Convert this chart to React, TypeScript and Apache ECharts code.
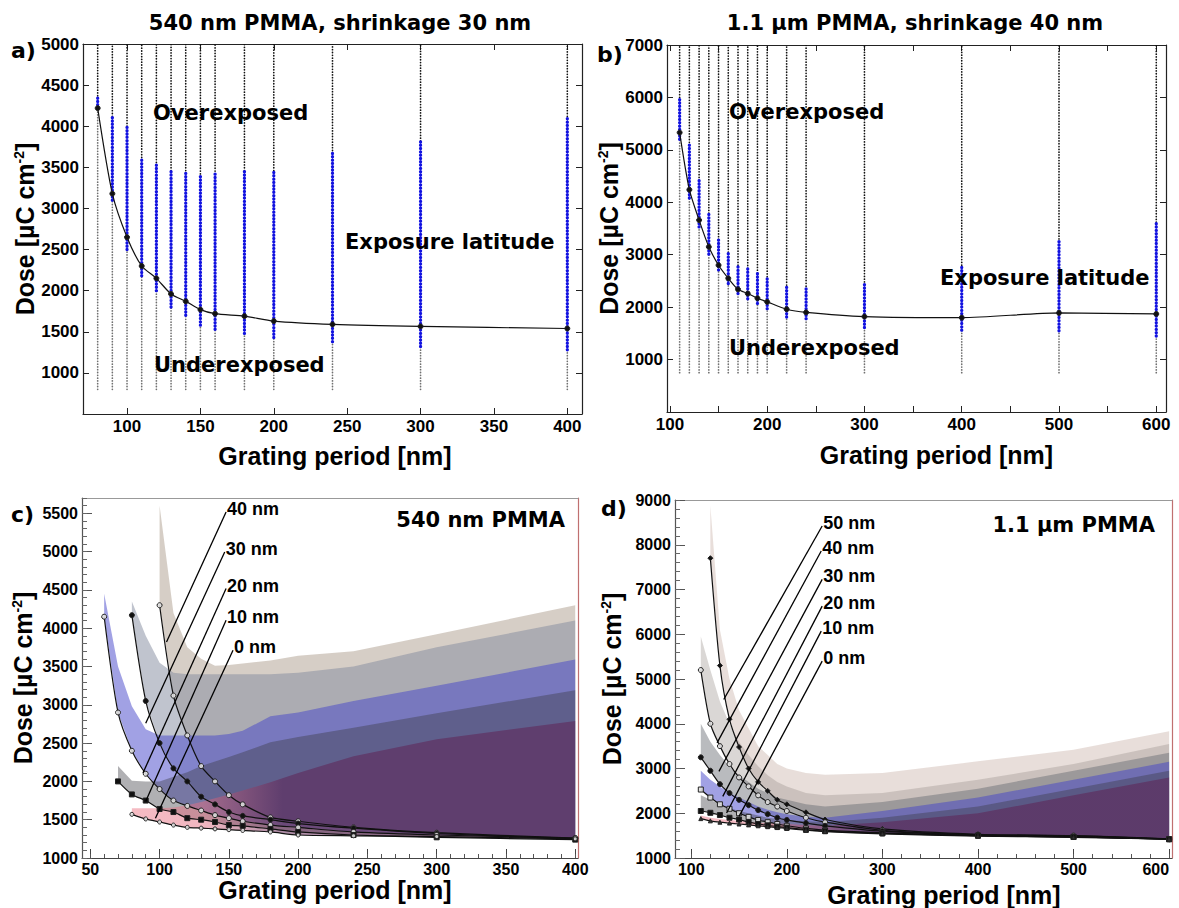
import React, { useEffect, useRef } from 'react';
import * as echarts from 'echarts';

// ---------------- Panel a: 540 nm PMMA, shrinkage 30 nm ----------------
const aPeriods = [80, 90, 100, 110, 120, 130, 140, 150, 160, 180, 200, 240, 300, 400];
const aDose = [4220, 3180, 2650, 2300, 2150, 1960, 1870, 1770, 1720, 1690, 1630, 1590, 1565, 1540];
const aLatitudeLow = [4220, 3100, 2500, 2180, 2000, 1800, 1700, 1580, 1530, 1480, 1430, 1380, 1320, 1280];
const aLatitudeHigh = [4370, 4120, 4000, 3620, 3560, 3460, 3460, 3420, 3420, 3460, 3460, 3670, 3820, 4120];
const aSweepStart = 800;
const aSweepEnd = 5000;
const aXTicks = [100, 150, 200, 250, 300, 350, 400];
const aYTicks = [1000, 1500, 2000, 2500, 3000, 3500, 4000, 4500, 5000];

// ---------------- Panel b: 1.1 um PMMA, shrinkage 40 nm ----------------
const bPeriods = [110, 120, 130, 140, 150, 160, 170, 180, 190, 200, 220, 240, 300, 400, 500, 600];
const bDose = [5330, 4240, 3660, 3150, 2800, 2550, 2340, 2260, 2170, 2100, 1960, 1900, 1820, 1800, 1890, 1870];
const bLatitudeLow = [5200, 4080, 3530, 3010, 2710, 2450, 2260, 2160, 2070, 1970, 1810, 1780, 1610, 1560, 1550, 1450];
const bLatitudeHigh = [6000, 5090, 4420, 3790, 3290, 3050, 2800, 2740, 2650, 2580, 2420, 2400, 2480, 2800, 3300, 3620];
const bSweepStart = 750;
const bSweepEnd = 7000;
const bXTicks = [100, 150, 200, 250, 300, 350, 400, 450, 500, 550, 600];
const bXLabels = [100, 200, 300, 400, 500, 600];
const bYTicks = [1000, 2000, 3000, 4000, 5000, 6000, 7000];

// ---------------- Panel c: 540 nm PMMA, shrinkage series ----------------
const cPeriods = [60, 70, 80, 90, 100, 110, 120, 130, 140, 150, 160, 180, 200, 240, 300, 400];
const cDose0 = [null, null, 1570, 1510, 1470, 1430, 1400, 1390, 1380, 1370, 1360, 1340, 1300, 1290, 1280, 1250];
const cUpper0 = [null, null, 1650, 1650, 1650, 1660, 1690, 1730, 1780, 1830, 1880, 1990, 2110, 2330, 2550, 2790];
const cDose10 = [null, 2000, 1830, 1750, 1640, 1600, 1520, 1500, 1470, 1430, 1420, 1380, 1340, 1300, 1270, 1240];
const cUpper10 = [null, 2200, 2010, 2000, 2000, 2060, 2120, 2200, 2260, 2320, 2380, 2510, 2580, 2700, 2890, 3190];
const cDose20 = [4150, 2900, 2400, 2100, 1900, 1750, 1680, 1620, 1560, 1520, 1480, 1430, 1400, 1340, 1300, 1260];
const cUpper20 = [4450, 3500, 2980, 2680, 2600, 2600, 2600, 2600, 2600, 2620, 2660, 2850, 2900, 3050, 3250, 3590];
const cDose30 = [null, null, 4170, 3050, 2500, 2170, 2000, 1800, 1700, 1600, 1550, 1500, 1450, 1390, 1320, 1250];
const cUpper30 = [null, null, 4350, 3900, 3550, 3420, 3400, 3400, 3400, 3400, 3400, 3400, 3420, 3500, 3750, 4100];
const cDose40 = [null, null, null, null, 4300, 3120, 2600, 2200, 2000, 1820, 1700, 1530, 1480, 1400, 1330, 1260];
const cUpper40 = [null, null, null, null, 5600, 4200, 3750, 3600, 3510, 3520, 3540, 3580, 3640, 3700, 3920, 4300];
const cLeaderNames = ['40 nm', '30 nm', '20 nm', '10 nm', '0 nm'];
const cLeaderFrom = [[148, 5517], [147, 4996], [148, 4518], [148, 4105], [153, 3713]];
const cLeaderTo = [[105, 3820], [90, 2760], [88, 2110], [90, 1740], [97, 1520]];
const cXTicks = [50, 100, 150, 200, 250, 300, 350, 400];
const cYTicks = [1000, 1500, 2000, 2500, 3000, 3500, 4000, 4500, 5000, 5500];

// ---------------- Panel d: 1.1 um PMMA, shrinkage series ----------------
const dPeriods = [110, 120, 130, 140, 150, 160, 170, 180, 190, 200, 220, 240, 300, 400, 500, 600];
const dDose0 = [1880, 1830, 1800, 1780, 1760, 1740, 1720, 1700, 1680, 1660, 1620, 1590, 1540, 1490, 1460, 1420];
const dUpper0 = [1950, 1900, 1870, 1850, 1830, 1810, 1790, 1780, 1770, 1760, 1740, 1720, 1800, 2000, 2400, 2800];
const dDose10 = [2050, 2010, 1960, 1900, 1860, 1800, 1760, 1730, 1700, 1680, 1630, 1600, 1550, 1500, 1470, 1420];
const dUpper10 = [2400, 2300, 2200, 2120, 2050, 2000, 1950, 1900, 1870, 1850, 1820, 1800, 1900, 2150, 2550, 2950];
const dDose20 = [2530, 2350, 2200, 2100, 2000, 1920, 1850, 1800, 1760, 1720, 1660, 1620, 1560, 1500, 1470, 1420];
const dUpper20 = [2950, 2750, 2600, 2450, 2350, 2250, 2150, 2080, 2020, 1980, 1920, 1900, 2050, 2350, 2750, 3150];
const dDose30 = [3250, 2950, 2650, 2450, 2300, 2180, 2070, 1980, 1900, 1850, 1780, 1720, 1600, 1510, 1480, 1420];
const dUpper30 = [4000, 3600, 3300, 3050, 2850, 2700, 2550, 2450, 2350, 2300, 2200, 2150, 2250, 2550, 2950, 3350];
const dDose40 = [5200, 4000, 3500, 3100, 2800, 2600, 2400, 2250, 2150, 2050, 1900, 1800, 1620, 1520, 1500, 1420];
const dUpper40 = [5950, 5200, 4500, 4000, 3600, 3300, 3050, 2850, 2700, 2600, 2450, 2400, 2450, 2750, 3100, 3550];
const dDose50 = [null, 7700, 5300, 4100, 3480, 3000, 2700, 2500, 2300, 2200, 2020, 1860, 1650, 1530, 1500, 1430];
const dUpper50 = [null, 8870, 6100, 5000, 4300, 3900, 3500, 3300, 3100, 3000, 2900, 2860, 2900, 3160, 3420, 3830];
const dLeaderNames = ['50 nm', '40 nm', '30 nm', '20 nm', '10 nm', '0 nm'];
const dLeaderFrom = [[237, 8418], [236, 7859], [237, 7226], [237, 6629], [236, 6070], [237, 5400]];
const dLeaderTo = [[134, 4541], [127, 3573], [129, 2937], [133, 2378], [137, 2007], [150, 1930]];
const dXTicks = [100, 200, 300, 400, 500, 600];
const dYTicks = [1000, 2000, 3000, 4000, 5000, 6000, 7000, 8000, 9000];

const X_TITLE = 'Grating period [nm]';
const Y_TITLE = 'Dose [µC cm{sup|-2}]';

const FONT = '"Liberation Sans", Arial, sans-serif';
const HEAVY = '"DejaVu Sans", sans-serif';
const INK = '#000';

function range(a: number, b: number, step: number) {
  const r: number[] = [];
  for (let v = a; v <= b + 1e-9; v += step) r.push(Math.round(v * 1000) / 1000);
  return r;
}

function lab(size: number) {
  return { color: INK, fontFamily: FONT, fontWeight: 'bold', fontSize: size };
}

function tickLab(size: number) {
  return { ...lab(size), formatter: (v: number) => String(v) };
}

function yName(gap: number) {
  return {
    name: Y_TITLE,
    nameLocation: 'middle',
    nameGap: gap,
    nameTextStyle: {
      ...lab(25),
      rich: { sup: { fontFamily: FONT, fontWeight: 'bold', fontSize: 14, color: INK, verticalAlign: 'top' } },
    },
  };
}

function xName(gap: number, shift: number) {
  return {
    name: X_TITLE,
    nameLocation: 'middle',
    nameGap: gap,
    nameTextStyle: { ...lab(25), padding: [0, 0, 0, shift] },
  };
}

function axis(base: any) {
  return { type: 'value', splitLine: { show: false }, axisPointer: { show: false }, ...base };
}

function line(color: string, width = 1) {
  return { show: true, onZero: false, lineStyle: { color, width } };
}

function sweepSeries(periods: number[], low: number[], high: number[], start: number, end: number, idx: number) {
  return {
    type: 'custom',
    xAxisIndex: idx,
    yAxisIndex: idx,
    silent: true,
    clip: true,
    z: 2,
    data: periods.map((p, i) => [p, low[i], high[i]]),
    renderItem: (params: any, api: any) => {
      const x = api.value(0);
      const s = api.coord([x, start]);
      const l = api.coord([x, api.value(1)]);
      const h = api.coord([x, api.value(2)]);
      const e = api.coord([x, end]);
      const seg = (a: number[], b: number[], stroke: string, w: number, dash: number[]) => ({
        type: 'line',
        shape: { x1: a[0], y1: a[1], x2: b[0], y2: b[1] },
        style: { stroke, lineWidth: w, lineDash: dash, lineCap: 'round' },
      });
      return {
        type: 'group',
        children: [
          seg(s, l, '#707070', 1.7, [0.1, 2.7]),
          seg(h, e, '#111111', 1.7, [0.1, 2.7]),
          seg(l, h, '#1212e0', 3.3, [0.1, 3.2]),
        ],
      };
    },
  };
}

function doseCurve(xs: number[], ys: (number | null)[], idx: number, symbol: string, size: number, fill: string, z = 4) {
  const data: number[][] = [];
  xs.forEach((x, i) => {
    if (ys[i] != null) data.push([x, ys[i] as number]);
  });
  return {
    type: 'line',
    xAxisIndex: idx,
    yAxisIndex: idx,
    data,
    smooth: 0.25,
    symbol,
    symbolSize: size,
    showSymbol: true,
    silent: true,
    z,
    lineStyle: { color: '#111', width: 1.2 },
    itemStyle: { color: fill, borderColor: '#222', borderWidth: 1 },
  };
}

function bandSeries(xs: number[], lower: (number | null)[], upper: (number | null)[], fill: any, idx: number, z: number) {
  const rows: number[][] = [];
  xs.forEach((x, i) => {
    if (lower[i] != null && upper[i] != null) rows.push([x, lower[i] as number, upper[i] as number]);
  });
  return {
    type: 'custom',
    xAxisIndex: idx,
    yAxisIndex: idx,
    silent: true,
    clip: true,
    z,
    data: rows,
    renderItem: (params: any, api: any) => {
      if (params.dataIndex !== 0) return null;
      const top = rows.map((r) => api.coord([r[0], r[2]]));
      const bot = rows.map((r) => api.coord([r[0], r[1]])).reverse();
      return { type: 'polygon', shape: { points: top.concat(bot) }, style: { fill } };
    },
  };
}

function leaders(names: string[], from: number[][], to: number[][], idx: number) {
  return [
    {
      type: 'lines',
      coordinateSystem: 'cartesian2d',
      xAxisIndex: idx,
      yAxisIndex: idx,
      silent: true,
      z: 6,
      data: from.map((f, i) => ({ coords: [f, to[i]] })),
      lineStyle: { color: '#000', width: 1.3, opacity: 1 },
    },
    {
      type: 'scatter',
      xAxisIndex: idx,
      yAxisIndex: idx,
      silent: true,
      z: 7,
      symbolSize: 0,
      data: names.map((n, i) => ({ name: n, value: from[i] })),
      label: { show: true, position: 'right', distance: 1, offset: [0, -3], formatter: '{b}', ...lab(18), opacity: 1 },
    },
  ];
}

function gtext(text: string, x: number, y: number, align: string, size: number, family: string) {
  return {
    type: 'text',
    x,
    y,
    silent: true,
    z: 100,
    style: {
      text,
      x: 0,
      y: 0,
      textAlign: align,
      textVerticalAlign: 'middle',
      align,
      verticalAlign: 'middle',
      fontSize: size,
      fontFamily: family,
      fontWeight: 'bold',
      fill: INK,
    },
  };
}

function pinkGradient() {
  return new echarts.graphic.LinearGradient(0, 0, 1, 0, [
    { offset: 0, color: 'rgba(235,120,135,0.5)' },
    { offset: 0.16, color: 'rgba(225,110,130,0.5)' },
    { offset: 0.34, color: 'rgba(95,29,80,0.5)' },
    { offset: 1, color: 'rgba(95,29,80,0.5)' },
  ]);
}

function buildOption() {
  const grid = [
    { left: 83, top: 44, width: 499, height: 370 },
    { left: 667, top: 45, width: 499, height: 367 },
    { left: 82, top: 498, width: 496, height: 360 },
    { left: 675, top: 500, width: 497, height: 358 },
  ].map((g) => ({ ...g, show: false, containLabel: false, outerBoundsMode: 'none' }));

  const xAxis: any[] = [];
  const yAxis: any[] = [];

  // panel a (index 0,1)
  xAxis.push(axis({
    gridIndex: 0, position: 'bottom', min: 70, max: 410, axisLine: line('#222', 1.2),
    axisTick: { show: true, inside: true, length: 6, customValues: aXTicks, lineStyle: { color: '#222' } },
    axisLabel: { show: true, customValues: aXTicks, margin: 4, ...tickLab(17) },
    ...xName(29, 5),
  }));
  xAxis.push(axis({
    gridIndex: 0, position: 'top', min: 70, max: 410, axisLine: line('#222', 1.2),
    axisTick: { show: true, inside: true, length: 6, customValues: aXTicks, lineStyle: { color: '#222' } },
    axisLabel: { show: false },
  }));
  yAxis.push(axis({
    gridIndex: 0, position: 'left', min: 500, max: 5000, axisLine: line('#222', 1.2),
    axisTick: { show: true, inside: true, length: 6, customValues: aYTicks, lineStyle: { color: '#222' } },
    axisLabel: { show: true, customValues: aYTicks, margin: 4, ...tickLab(17) },
    ...yName(46),
  }));
  yAxis.push(axis({
    gridIndex: 0, position: 'right', min: 500, max: 5000, axisLine: line('#222', 1.2),
    axisTick: { show: true, inside: true, length: 6, customValues: aYTicks, lineStyle: { color: '#222' } },
    axisLabel: { show: false },
  }));

  // panel b (index 2,3)
  xAxis.push(axis({
    gridIndex: 1, position: 'bottom', min: 97, max: 610, axisLine: line('#222', 1.2),
    axisTick: { show: true, inside: true, length: 6, customValues: bXTicks, lineStyle: { color: '#222' } },
    axisLabel: { show: true, customValues: bXLabels, margin: 4, ...tickLab(17) },
    ...xName(30, 40),
  }));
  xAxis.push(axis({
    gridIndex: 1, position: 'top', min: 97, max: 610, axisLine: line('#222', 1.2),
    axisTick: { show: true, inside: true, length: 6, customValues: bXTicks, lineStyle: { color: '#222' } },
    axisLabel: { show: false },
  }));
  yAxis.push(axis({
    gridIndex: 1, position: 'left', min: 0, max: 7000, axisLine: line('#222', 1.2),
    axisTick: { show: true, inside: true, length: 6, customValues: bYTicks, lineStyle: { color: '#222' } },
    axisLabel: { show: true, customValues: bYTicks, margin: 4, ...tickLab(17) },
    ...yName(44),
  }));
  yAxis.push(axis({
    gridIndex: 1, position: 'right', min: 0, max: 7000, axisLine: line('#222', 1.2),
    axisTick: { show: true, inside: true, length: 6, customValues: bYTicks, lineStyle: { color: '#222' } },
    axisLabel: { show: false },
  }));

  // panel c (index 4,5,6)
  xAxis.push(axis({
    gridIndex: 2, position: 'bottom', min: 44, max: 402, axisLine: line('#444', 1.2),
    axisTick: { show: true, inside: true, length: 9, customValues: cXTicks, lineStyle: { color: '#444' } },
    axisLabel: { show: true, customValues: cXTicks, margin: 3, ...tickLab(16) },
    ...xName(12, 10),
  }));
  xAxis.push(axis({
    gridIndex: 2, position: 'bottom', min: 44, max: 402, axisLine: { show: false },
    axisTick: { show: true, inside: true, length: 4, customValues: range(50, 400, 10), lineStyle: { color: '#555' } },
    axisLabel: { show: false },
  }));
  xAxis.push(axis({
    gridIndex: 2, position: 'top', min: 44, max: 402, axisLine: line('#999', 1),
    axisTick: { show: false }, axisLabel: { show: false },
  }));
  yAxis.push(axis({
    gridIndex: 2, position: 'left', min: 1000, max: 5700, axisLine: line('#555', 1.2),
    axisTick: { show: true, inside: true, length: 10, customValues: cYTicks, lineStyle: { color: '#555' } },
    axisLabel: { show: true, customValues: cYTicks, margin: 4, ...tickLab(16) },
    ...yName(47),
  }));
  yAxis.push(axis({
    gridIndex: 2, position: 'left', min: 1000, max: 5700, axisLine: { show: false },
    axisTick: { show: true, inside: true, length: 5, customValues: range(1000, 5700, 100), lineStyle: { color: '#666' } },
    axisLabel: { show: false },
  }));
  yAxis.push(axis({
    gridIndex: 2, position: 'right', min: 1000, max: 5700, axisLine: line('#c07070', 1.2),
    axisTick: { show: false }, axisLabel: { show: false },
  }));

  // panel d (index 7,8,9)
  xAxis.push(axis({
    gridIndex: 3, position: 'bottom', min: 83, max: 603, axisLine: line('#444', 1.2),
    axisTick: { show: true, inside: true, length: 9, customValues: dXTicks, lineStyle: { color: '#444' } },
    axisLabel: { show: true, customValues: dXTicks, margin: 3, alignMaxLabel: 'right', ...tickLab(16) },
    ...xName(24, 41),
  }));
  xAxis.push(axis({
    gridIndex: 3, position: 'bottom', min: 83, max: 603, axisLine: { show: false },
    axisTick: { show: true, inside: true, length: 4, customValues: range(100, 600, 20), lineStyle: { color: '#555' } },
    axisLabel: { show: false },
  }));
  xAxis.push(axis({
    gridIndex: 3, position: 'top', min: 83, max: 603, axisLine: line('#999', 1),
    axisTick: { show: false }, axisLabel: { show: false },
  }));
  yAxis.push(axis({
    gridIndex: 3, position: 'left', min: 1000, max: 9000, axisLine: line('#555', 1.2),
    axisTick: { show: true, inside: true, length: 10, customValues: dYTicks, lineStyle: { color: '#555' } },
    axisLabel: { show: true, customValues: dYTicks, margin: 4, ...tickLab(16) },
    ...yName(51),
  }));
  yAxis.push(axis({
    gridIndex: 3, position: 'left', min: 1000, max: 9000, axisLine: { show: false },
    axisTick: { show: true, inside: true, length: 5, customValues: range(1000, 9000, 200), lineStyle: { color: '#666' } },
    axisLabel: { show: false },
  }));
  yAxis.push(axis({
    gridIndex: 3, position: 'right', min: 1000, max: 9000, axisLine: line('#c07070', 1.2),
    axisTick: { show: false }, axisLabel: { show: false },
  }));

  const series: any[] = [
    // a
    sweepSeries(aPeriods, aLatitudeLow, aLatitudeHigh, aSweepStart, aSweepEnd, 0),
    doseCurve(aPeriods, aDose, 0, 'circle', 5, '#111'),
    // b
    sweepSeries(bPeriods, bLatitudeLow, bLatitudeHigh, bSweepStart, bSweepEnd, 2),
    doseCurve(bPeriods, bDose, 2, 'circle', 5, '#111'),
    // c bands (largest shrinkage at the back)
    bandSeries(cPeriods, cDose40, cUpper40, 'rgba(173,157,141,0.5)', 4, 1),
    bandSeries(cPeriods, cDose30, cUpper30, 'rgba(130,138,158,0.5)', 4, 1),
    bandSeries(cPeriods, cDose20, cUpper20, 'rgba(68,68,202,0.5)', 4, 1),
    bandSeries(cPeriods, cDose10, cUpper10, 'rgba(57,57,65,0.4)', 4, 1),
    bandSeries(cPeriods, cDose0, cUpper0, pinkGradient(), 4, 1),
    doseCurve(cPeriods, cDose40, 4, 'circle', 5, 'rgba(225,225,225,0.9)'),
    doseCurve(cPeriods, cDose30, 4, 'circle', 5, '#111'),
    doseCurve(cPeriods, cDose20, 4, 'circle', 5, 'rgba(225,225,225,0.9)'),
    doseCurve(cPeriods, cDose10, 4, 'rect', 5, '#111'),
    doseCurve(cPeriods, cDose0, 4, 'circle', 4, 'rgba(225,225,225,0.9)'),
    ...leaders(cLeaderNames, cLeaderFrom, cLeaderTo, 4),
    // d bands
    bandSeries(dPeriods, dDose50, dUpper50, 'rgba(190,160,150,0.35)', 7, 1),
    bandSeries(dPeriods, dDose40, dUpper40, 'rgba(150,140,135,0.35)', 7, 1),
    bandSeries(dPeriods, dDose30, dUpper30, 'rgba(100,105,110,0.45)', 7, 1),
    bandSeries(dPeriods, dDose20, dUpper20, 'rgba(68,68,202,0.5)', 7, 1),
    bandSeries(dPeriods, dDose10, dUpper10, 'rgba(57,57,65,0.4)', 7, 1),
    bandSeries(dPeriods, dDose0, dUpper0, pinkGradient(), 7, 1),
    doseCurve(dPeriods, dDose50, 7, 'diamond', 5, '#111'),
    doseCurve(dPeriods, dDose40, 7, 'circle', 5, 'rgba(225,225,225,0.9)'),
    doseCurve(dPeriods, dDose30, 7, 'circle', 5, '#111'),
    doseCurve(dPeriods, dDose20, 7, 'rect', 5, 'rgba(225,225,225,0.9)'),
    doseCurve(dPeriods, dDose10, 7, 'rect', 5, '#111'),
    doseCurve(dPeriods, dDose0, 7, 'triangle', 4, '#333'),
    ...leaders(dLeaderNames, dLeaderFrom, dLeaderTo, 7),
  ];

  const graphic = [
    gtext('540 nm PMMA, shrinkage 30 nm', 340, 23, 'center', 21, HEAVY),
    gtext('1.1 µm PMMA, shrinkage 40 nm', 915, 23, 'center', 21, HEAVY),
    gtext('a)', 11, 50, 'left', 22, HEAVY),
    gtext('b)', 597, 54, 'left', 22, HEAVY),
    gtext('c)', 11, 514, 'left', 22, HEAVY),
    gtext('d)', 601, 508, 'left', 22, HEAVY),
    gtext('Overexposed', 153, 113, 'left', 21, HEAVY),
    gtext('Underexposed', 154, 365, 'left', 21, HEAVY),
    gtext('Exposure latitude', 345, 242, 'left', 21, HEAVY),
    gtext('Overexposed', 729, 112, 'left', 21, HEAVY),
    gtext('Underexposed', 729, 348, 'left', 21, HEAVY),
    gtext('Exposure latitude', 940, 278, 'left', 21, HEAVY),
    gtext('540 nm PMMA', 565, 520, 'right', 21, HEAVY),
    gtext('1.1 µm PMMA', 1155, 525, 'right', 21, HEAVY),
  ];

  return {
    animation: false,
    backgroundColor: '#fff',
    textStyle: { fontFamily: FONT },
    grid,
    xAxis,
    yAxis,
    series,
    graphic,
  };
}

export default function App() {
  const ref = useRef<HTMLDivElement>(null);
  useEffect(() => {
    if (!ref.current) return;
    const chart = echarts.init(ref.current, null, { renderer: 'svg' });
    chart.setOption(buildOption() as any);
    return () => chart.dispose();
  }, []);
  return (
    <div
      ref={ref}
      style={{ position: 'fixed', left: 0, top: 0, width: 1179, height: 908, background: '#fff' }}
    />
  );
}
